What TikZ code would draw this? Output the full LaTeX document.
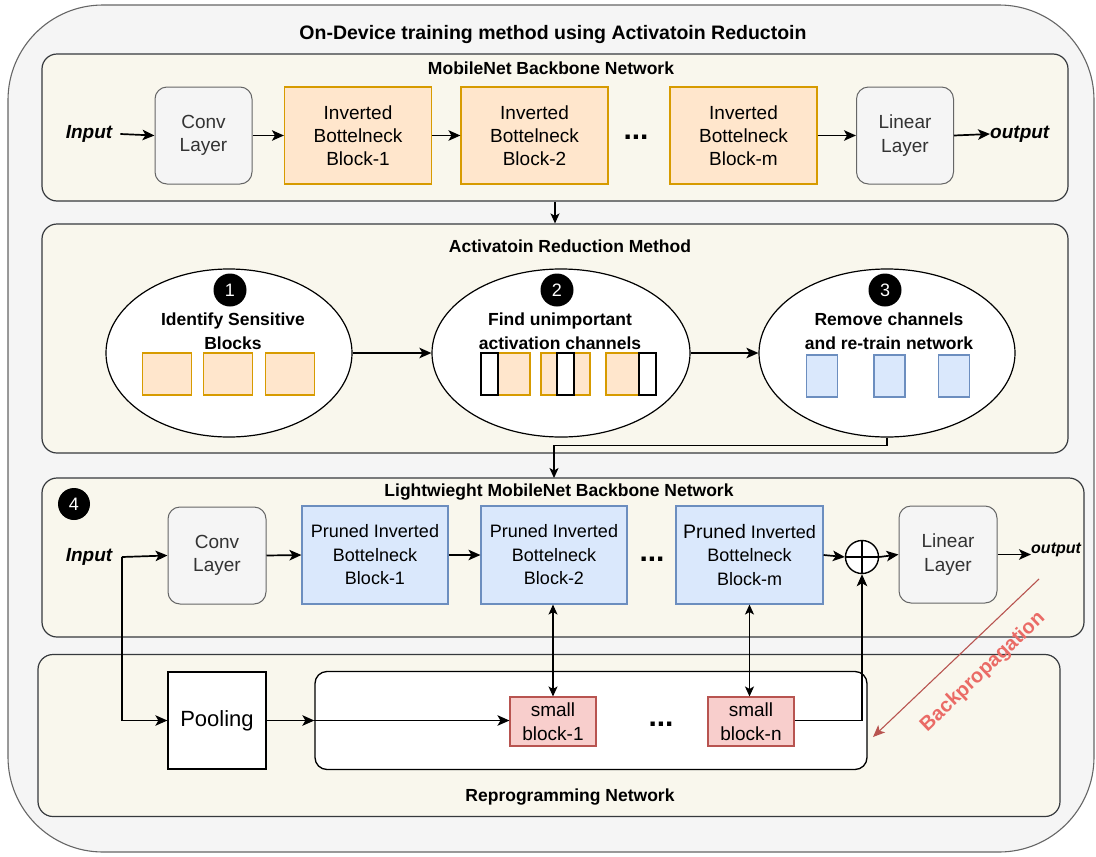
\documentclass[tikz,border=0pt]{standalone}
\usepackage{fontspec}
\setmainfont{Liberation Sans}
\usetikzlibrary{arrows.meta,shapes.geometric,calc}

\definecolor{outerfill}{HTML}{F5F5F5}
\definecolor{outerline}{HTML}{666666}
\definecolor{secfill}{HTML}{F9F7ED}
\definecolor{secline}{HTML}{36393D}
\definecolor{orfill}{HTML}{FFE6CC}
\definecolor{orline}{HTML}{D79B00}
\definecolor{blfill}{HTML}{DAE8FC}
\definecolor{blline}{HTML}{6C8EBF}
\definecolor{rdfill}{HTML}{F8CECC}
\definecolor{rdline}{HTML}{B85450}
\definecolor{bptext}{HTML}{EA6B66}
\definecolor{graytext}{HTML}{333333}

\newcommand{\fs}[2]{\fontsize{#1}{#2}\selectfont}

\tikzset{
  tip/.tip={Stealth[length=12pt,width=10.5pt,inset=3pt]},
  smalltip/.tip={Stealth[length=10pt,width=9pt,inset=2.5pt]},
  section/.style={draw=secline, fill=secfill, line width=1.2pt, rounded corners=15pt},
  sectitle/.style={font=\fs{17.5}{21}\bfseries, inner sep=0},
  graybox/.style={draw=outerline, fill=outerfill, line width=1pt, rounded corners=12pt,
    text=graytext, font=\fs{19}{23.5}, align=center, inner sep=0},
  orbox/.style={draw=orline, fill=orfill, line width=1.1pt, font=\fs{19}{23}, align=center, inner sep=0},
  blbox/.style={draw=blline, fill=blfill, line width=1.1pt, font=\fs{18}{23.5}, align=center, inner sep=0},
  rdbox/.style={draw=rdline, fill=rdfill, line width=1.1pt, font=\fs{19}{24}, align=center, inner sep=0,
    minimum width=86pt, minimum height=49pt},
  stage/.style={ellipse, draw=black, fill=white, line width=1.2pt, inner sep=0},
  stagetext/.style={font=\fs{17.5}{24}\bfseries, align=center, inner sep=0},
  numdot/.style={circle, fill=black, text=white, font=\fs{18}{18}, inner sep=0, minimum size=33pt},
  chor/.style={draw=orline, fill=orfill, line width=1.1pt, inner sep=0, minimum width=49pt, minimum height=42pt},
  chbl/.style={draw=blline, fill=blfill, line width=1.1pt, inner sep=0, minimum width=31pt, minimum height=42pt},
  chcut/.style={draw=black, fill=white, line width=1.4pt, inner sep=0, minimum width=17pt, minimum height=42pt},
  conn/.style={draw=black, line width=1.7pt, -tip},
  thinconn/.style={draw=black, line width=1.2pt, -smalltip},
  bothconn/.style={draw=black, line width=1.2pt, smalltip-smalltip},
  dots/.style={font=\fs{30}{30}\bfseries, inner sep=0},
  iolabel/.style={font=\fs{19}{23}\bfseries\itshape, inner sep=0},
}

\begin{document}
\begin{tikzpicture}[x=1pt, y=-1pt]
\useasboundingbox (0,0) rectangle (1096,857);

% overall container
\draw[draw=outerline, fill=outerfill, line width=1.1pt, rounded corners=95pt]
  (8,5) rectangle (1094,852);
\node[font=\fs{19.5}{23}\bfseries, inner sep=0] (title) at (553,34)
  {On-Device training method using Activatoin Reductoin};

% ---------- MobileNet backbone ----------
\node[section, minimum width=1026pt, minimum height=147pt, inner sep=0] (sec1) at (555,127.5) {};
\node[sectitle] (sec1t) at (551,68) {MobileNet Backbone Network};
\node[iolabel] (in1) at (89,134) {Input};
\node[graybox, minimum width=97pt, minimum height=97pt] (conv1) at (203.5,135.5) {Conv\\Layer};
\node[orbox, minimum width=147pt, minimum height=97pt] (ib1) at (358,135.5) {Inverted\\Bottelneck\\Block-1};
\node[orbox, minimum width=147pt, minimum height=97pt] (ib2) at (534.5,135.5) {Inverted\\Bottelneck\\Block-2};
\node[dots] (dots1) at (636,137) {...};
\node[orbox, minimum width=147pt, minimum height=97pt] (ibm) at (743.5,135.5) {Inverted\\Bottelneck\\Block-m};
\node[graybox, minimum width=97pt, minimum height=97pt] (lin1) at (905,135.5) {Linear\\Layer};
\node[iolabel, anchor=west] (out1) at (990,134) {output};

\draw[conn] (in1.east) ++(8,0) -- (conv1.west);
\draw[conn] (conv1.east) -- (ib1.west);
\draw[conn] (ib1.east) -- (ib2.west);
\draw[conn] (ibm.east) -- (lin1.west);
\draw[conn] (lin1.east) -- (out1.west);

% ---------- Activation reduction ----------
\node[section, minimum width=1026pt, minimum height=229pt, inner sep=0] (sec2) at (555,338.5) {};
\node[sectitle] (sec2t) at (570,246) {Activatoin Reduction Method};
\draw[thinconn] (sec1.south) -- (sec2.north);

\node[stage, minimum width=246pt, minimum height=168pt] (e1) at (229,353) {};
\node[stage, minimum width=258pt, minimum height=168pt] (e2) at (561,353) {};
\node[stage, minimum width=256pt, minimum height=168pt] (e3) at (887,353) {};

\node[numdot] (n1) at (230,290) {1};
\node[numdot] (n2) at (557,290) {2};
\node[numdot] (n3) at (885,290) {3};

\node[stagetext] (t1) at (233,331) {Identify Sensitive\\Blocks};
\node[stagetext] (t2) at (560,331) {Find unimportant\\activation channels};
\node[stagetext] (t3) at (889,331) {Remove channels\\and re-train network};

% sensitive blocks
\node[chor] (s1a) at (167,374) {};
\node[chor] (s1b) at (228,374) {};
\node[chor] (s1c) at (290,374) {};
% blocks with unimportant channels marked
\node[chor] (s2a) at (505.5,374) {};
\node[chcut] (c2a) at (489.5,374) {};
\node[chor] (s2b) at (565.5,374) {};
\node[chcut] (c2b) at (565.5,374) {};
\node[chor] (s2c) at (630.5,374) {};
\node[chcut] (c2c) at (647.5,374) {};
% pruned blocks
\node[chbl] (s3a) at (822,376) {};
\node[chbl] (s3b) at (889.5,376) {};
\node[chbl] (s3c) at (954,376) {};

\draw[conn] (e1.east) -- (e2.west);
\draw[conn] (e2.east) -- (e3.west);

% ---------- Lightweight backbone ----------
\node[section, minimum width=1042pt, minimum height=159pt, inner sep=0] (sec3) at (563,557.5) {};
\node[sectitle] (sec3t) at (559,492) {Lightwieght MobileNet Backbone Network};
\node[numdot, minimum size=32pt] (n4) at (74,504) {4};

\coordinate (lwin) at (554,478);
\draw[thinconn] (e3.south) -- ++(0,8) -| (lwin);

\node[iolabel] (in2) at (89,557) {Input};
\coordinate (split) at (122,557);
\node[graybox, minimum width=98pt, minimum height=97pt] (conv2) at (217,555.5) {Conv\\Layer};
\node[blbox, minimum width=146pt, minimum height=98pt] (pb1) at (375,555) {Pruned Inverted\\Bottelneck\\Block-1};
\node[blbox, minimum width=146pt, minimum height=98pt] (pb2) at (554,555) {Pruned Inverted\\Bottelneck\\Block-2};
\node[dots] (dots2) at (652,559) {...};
\node[blbox, minimum width=147pt, minimum height=98pt] (pbm) at (749.5,555) {{\fs{19.5}{23.5}Pruned} Inverted\\Bottelneck\\Block-m};
\node[circle, draw=black, fill=white, line width=1.4pt, minimum size=33pt, inner sep=0] (sum) at (862,557) {};
\draw[line width=1.4pt] (sum.north) -- (sum.south) (sum.west) -- (sum.east);
\node[graybox, minimum width=98pt, minimum height=97pt] (lin2) at (948,554.5) {Linear\\Layer};
\node[font=\fs{16}{18}\bfseries\itshape, inner sep=0, anchor=west] (out2) at (1031,550) {output};

\draw[conn] (split) -- (conv2.west);
\draw[conn] (conv2.east) -- (pb1.west);
\draw[conn] (pb1.east) -- (pb2.west);
\draw[conn] (pbm.east) -- (sum.west);
\draw[conn] (sum.east) -- (lin2.west);
\draw[conn] (lin2.east) -- (out2.west |- lin2.east);

% ---------- Reprogramming network ----------
\node[section, minimum width=1022pt, minimum height=162pt, inner sep=0] (sec4) at (549,735.5) {};
\node[sectitle] (sec4t) at (570,797) {Reprogramming Network};
\node[draw=black, fill=white, line width=1.3pt, minimum width=98pt, minimum height=97pt,
  font=\fs{22}{26}, inner sep=0] (pool) at (217,720.5) {Pooling};
\node[draw=black, fill=white, line width=1.3pt, rounded corners=12pt, minimum width=552pt,
  minimum height=98pt, inner sep=0] (inner) at (591,720.5) {};
\node[rdbox] (sb1) at (553,721.5) {small\\block-1};
\node[dots] (dots3) at (661,724) {...};
\node[rdbox] (sbn) at (751,721.5) {small\\block-n};

\draw[conn, line width=1.3pt] (split) |- (pool.west);
\draw[conn] (pool.east) -- (inner.west |- pool.east);
\draw[conn] (inner.west |- pool.east) -- (sb1.west |- pool.east);
\draw[conn, line width=1.4pt] (sbn.east |- pool.east) -| (sum.south);
\draw[bothconn] (pb2.south -| sb1.north) -- (sb1.north);
\draw[bothconn] (pbm.south) -- (pbm.south |- sbn.north);

% backpropagation path
\coordinate (bpstart) at (1039,579);
\coordinate (bpend) at (873,737);
\draw[draw=rdline, line width=1.1pt, -{Stealth[length=12pt,width=10pt,inset=3pt]}] (bpstart) -- (bpend);
\node[text=bptext, font=\fs{20}{22}\bfseries, rotate=43.6, inner sep=0] (bp) at (983,672) {Backpropagation};

\end{tikzpicture}
\end{document}
